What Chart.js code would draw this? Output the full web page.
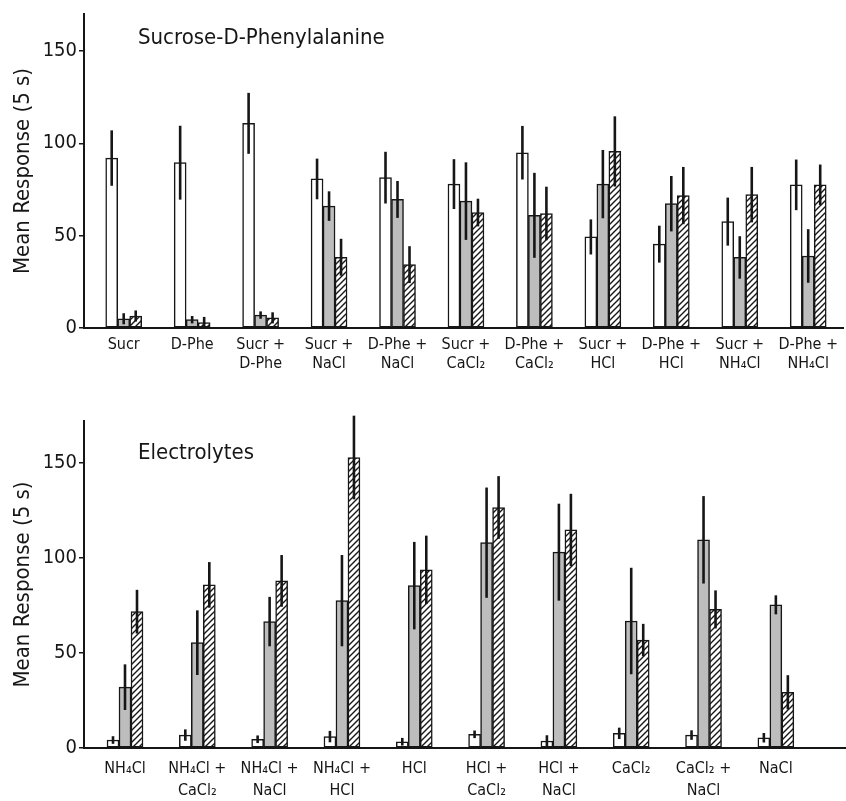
<!DOCTYPE html>
<html>
<head>
<meta charset="utf-8">
<script src="https://cdn.jsdelivr.net/npm/chart.js@4.4.1/dist/chart.umd.min.js"></script>
<style>
  html, body { margin: 0; padding: 0; background: #fff; }
  canvas { display: block; }
</style>
</head>
<body>
<canvas id="chartTop" width="846" height="400"></canvas>
<canvas id="chartBottom" width="846" height="401"></canvas>
<script>
// --- DATA ---
const yTicks = [0, 50, 100, 150];

// Sucrose - D-Phenylalanine panel
const topCats = ['Sucr', 'D-Phe', ['Sucr +', 'D-Phe'], ['Sucr +', 'NaCl'], ['D-Phe +', 'NaCl'],
    ['Sucr +', 'CaCl₂'], ['D-Phe +', 'CaCl₂'], ['Sucr +', 'HCl'], ['D-Phe +', 'HCl'],
    ['Sucr +', 'NH₄Cl'], ['D-Phe +', 'NH₄Cl']];
const topWhite = [92, 89.5, 110.8, 80.7, 81.4, 77.9, 94.9, 49.3, 45.4, 57.6, 77.5];
const topWhiteErr = [15, 20, 16.5, 11, 14, 13.5, 14.5, 9.5, 10, 13, 13.7];
const topGray = [5, 4.5, 7, 66, 69.6, 68.7, 61, 77.9, 67.3, 38.2, 39];
const topGrayErr = [3, 2, 2, 8, 10, 21, 23, 18.5, 15, 11.5, 14.5];
const topHatch = [6.5, 3, 5.5, 38.3, 34.3, 62.5, 62, 95.6, 71.7, 72.2, 77.5];
const topHatchErr = [3, 3, 3, 10, 10, 7.5, 14.5, 19, 15.5, 15, 11];

// Electrolytes panel
const botCats = ['NH₄Cl', ['NH₄Cl +', 'CaCl₂'], ['NH₄Cl +', 'NaCl'], ['NH₄Cl +', 'HCl'], 'HCl',
    ['HCl +', 'CaCl₂'], ['HCl +', 'NaCl'], 'CaCl₂', ['CaCl₂ +', 'NaCl'], 'NaCl'];
const botWhite = [4.2, 6.8, 4.6, 6, 3.3, 7.2, 3.7, 7.7, 6.8, 5.4];
const botWhiteErr = [2, 3, 2, 3, 2, 2, 3, 3, 2.5, 2.5];
const botGray = [32, 55.4, 66.5, 77.5, 85.4, 108, 103, 66.8, 109.5, 75.3];
const botGrayErr = [12, 17, 13, 24, 23, 29, 25.5, 28, 23, 5];
const botHatch = [71.7, 85.8, 87.9, 152.8, 93.7, 126.5, 114.7, 56.8, 72.9, 29.3];
const botHatchErr = [11.5, 12, 13.6, 22, 18, 16.5, 19, 8.5, 10, 9];

// --- STYLE ---
const FONT = '"DejaVu Sans Condensed", "Liberation Sans", sans-serif';
const INK = '#161616';

function makeHatch() {
    const c = document.createElement('canvas');
    c.width = 6; c.height = 6;
    const g = c.getContext('2d');
    g.fillStyle = '#fff';
    g.fillRect(0, 0, 6, 6);
    g.strokeStyle = INK;
    g.lineWidth = 1.4;
    g.beginPath();
    g.moveTo(-1, 7); g.lineTo(7, -1);
    g.moveTo(-1, 1); g.lineTo(1, -1);
    g.moveTo(5, 7); g.lineTo(7, 5);
    g.stroke();
    return g.createPattern(c, 'repeat');
}
const hatch = makeHatch();

// error bars drawn over each bar
const errorBars = {
    id: 'errorBars',
    afterDatasetsDraw(chart) {
        const ctx = chart.ctx;
        const ys = chart.scales.y;
        chart.data.datasets.forEach((ds, di) => {
            const meta = chart.getDatasetMeta(di);
            meta.data.forEach((bar, i) => {
                const v = ds.data[i].y;
                const e = ds.errors[i];
                ctx.save();
                ctx.strokeStyle = INK;
                ctx.lineWidth = 2.6;
                ctx.beginPath();
                ctx.moveTo(bar.x, ys.getPixelForValue(v + e));
                ctx.lineTo(bar.x, ys.getPixelForValue(Math.max(0, v - e)));
                ctx.stroke();
                ctx.restore();
            });
        });
    }
};

// panel caption inside the plot
const panelTitle = {
    id: 'panelTitle',
    afterDraw(chart, args, opts) {
        const ctx = chart.ctx;
        ctx.save();
        ctx.font = `22px ${FONT}`;
        ctx.fillStyle = INK;
        ctx.textBaseline = 'middle';
        ctx.fillText(opts.text, opts.x, opts.y);
        ctx.restore();
    }
};

function pts(arr) { return arr.map((v, i) => ({ x: i, y: v })); }

function buildChart(id, cfg) {
    const ctx = document.getElementById(id).getContext('2d');
    return new Chart(ctx, {
        type: 'bar',
        data: {
            datasets: [
                { data: pts(cfg.white), errors: cfg.whiteErr, backgroundColor: '#fff' },
                { data: pts(cfg.gray), errors: cfg.grayErr, backgroundColor: '#bdbdbd' },
                { data: pts(cfg.hatch), errors: cfg.hatchErr, backgroundColor: hatch }
            ]
        },
        options: {
            responsive: false,
            animation: false,
            barThickness: 12,
            borderColor: INK,
            borderWidth: 1.5,
            borderSkipped: false,
            layout: { padding: { top: cfg.padTop, right: 0, left: 0, bottom: 0 } },
            plugins: {
                legend: { display: false },
                tooltip: { enabled: false },
                panelTitle: { text: cfg.title, x: 138, y: cfg.titleY }
            },
            scales: {
                x: {
                    type: 'linear',
                    offset: false,
                    min: cfg.xMin,
                    max: cfg.xMax,
                    afterBuildTicks: s => { s.ticks = cfg.cats.map((c, i) => ({ value: i })); },
                    afterFit: s => { s.height = cfg.xHeight; },
                    grid: { display: false, drawTicks: false },
                    border: { color: INK, width: 2 },
                    ticks: {
                        autoSkip: false,
                        maxRotation: 0,
                        padding: cfg.labelPad,
                        color: INK,
                        font: { family: FONT, size: 16, lineHeight: cfg.labelLine },
                        callback: v => cfg.cats[v]
                    }
                },
                y: {
                    min: 0,
                    max: cfg.yMax,
                    afterBuildTicks: s => { s.ticks = yTicks.map(v => ({ value: v })); },
                    afterFit: s => { s.width = 84; },
                    grid: { display: true, drawOnChartArea: false, tickLength: 5, color: INK, lineWidth: 1.5 },
                    border: { color: INK, width: 2 },
                    ticks: { padding: 2, color: INK, font: { family: FONT, size: 20 } },
                    title: {
                        display: true,
                        text: 'Mean Response (5 s)',
                        color: INK,
                        padding: { top: 10, bottom: 0 },
                        font: { family: FONT, size: 22 }
                    }
                }
            }
        },
        plugins: [errorBars, panelTitle]
    });
}

buildChart('chartTop', {
    cats: topCats, white: topWhite, whiteErr: topWhiteErr, gray: topGray, grayErr: topGrayErr,
    hatch: topHatch, hatchErr: topHatchErr,
    title: 'Sucrose-D-Phenylalanine', titleY: 38,
    xMin: -0.58, xMax: 10.52, yMax: 170, padTop: 7, xHeight: 72, labelPad: 8, labelLine: 1.15
});

buildChart('chartBottom', {
    cats: botCats, white: botWhite, whiteErr: botWhiteErr, gray: botGray, grayErr: botGrayErr,
    hatch: botHatch, hatchErr: botHatchErr,
    title: 'Electrolytes', titleY: 53,
    xMin: -0.567, xMax: 9.97, yMax: 172, padTop: 21, xHeight: 53, labelPad: 10, labelLine: 1.35
});
</script>
</body>
</html>
